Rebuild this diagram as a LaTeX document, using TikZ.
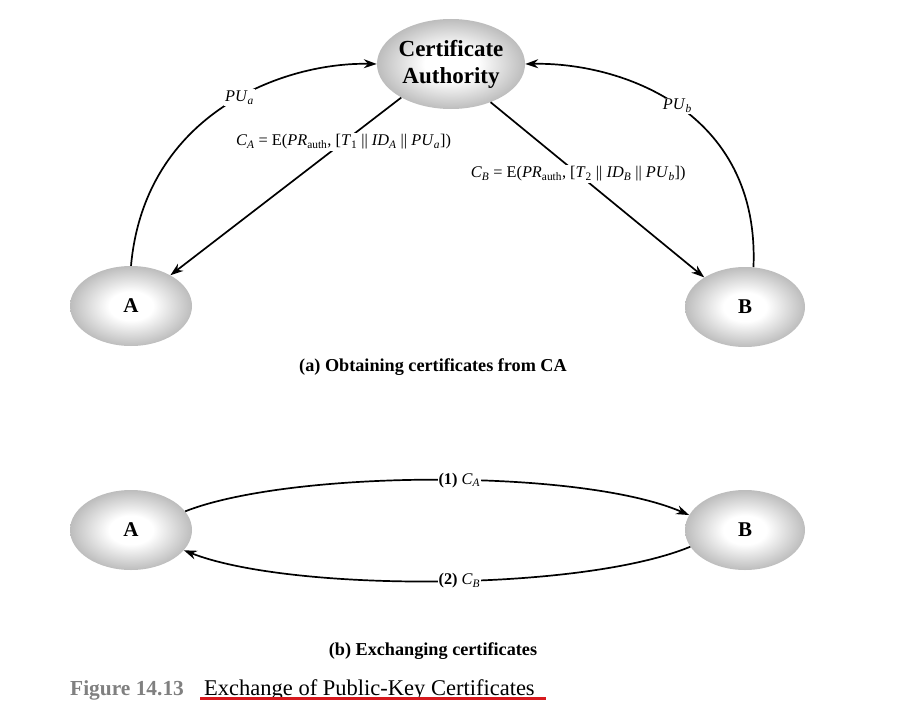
\documentclass[tikz,border=0pt]{standalone}
\usepackage{fontspec}
\setmainfont{Liberation Serif}
\usetikzlibrary{shapes.geometric,arrows.meta}
\pgfdeclareradialshading{ovalshade}{\pgfpoint{0bp}{0bp}}{color(0bp)=(white); color(9bp)=(white); color(25bp)=(black!26); color(50bp)=(black!26)}
\definecolor{figgray}{RGB}{128,128,128}
\definecolor{ulred}{RGB}{215,25,30}
\tikzset{
  oval/.style={ellipse, shading=ovalshade, draw=none, inner sep=0pt, font=\fontsize{21}{24}\selectfont\bfseries},
  conn/.style={line width=1.7pt, -{Stealth[length=13pt,width=9pt]}},
  lbl/.style={fill=white, inner sep=1.5pt, font=\fontsize{16.3}{19}\selectfont},
  captext/.style={font=\fontsize{18.2}{21}\selectfont\bfseries}
}
\begin{document}
\begin{tikzpicture}[x=1pt,y=-1pt]
\useasboundingbox (0,0) rectangle (899,701);
% top part
\node[oval, minimum width=148pt, minimum height=90pt, font=\fontsize{23}{26}\selectfont\bfseries, align=center] (CA) at (451,64) {Certificate\\[1pt]Authority};
\node[oval, minimum width=122pt, minimum height=80pt] (A) at (131,306) {A};
\node[oval, minimum width=120pt, minimum height=80pt] (B) at (745,307) {B};
\draw[conn] (A.north) .. controls (145,112) and (285,62) .. node[lbl, pos=0.55] {\textit{PU}\textsubscript{\textit{a}}} (CA.west);
\draw[conn] (B.78) .. controls (760,110) and (620,62) .. node[lbl, pos=0.5] {\textit{PU}\textsubscript{\textit{b}}} (CA.east);
\draw[conn] (CA.214) -- node[lbl, pos=0.25] {\textit{C}\textsubscript{\textit{A}} = E(\textit{PR}\textsubscript{auth}, [\textit{T}\textsubscript{1} || \textit{ID}\textsubscript{\textit{A}} || \textit{PU}\textsubscript{\textit{a}}])} (A.38);
\draw[conn] (CA.316) -- node[lbl, pos=0.41] {\textit{C}\textsubscript{\textit{B}} = E(\textit{PR}\textsubscript{auth}, [\textit{T}\textsubscript{2} || \textit{ID}\textsubscript{\textit{B}} || \textit{PU}\textsubscript{\textit{b}}])} (B.144);
\node[captext] (capa) at (433,367) {(a) Obtaining certificates from CA};
% bottom part
\node[oval, minimum width=122pt, minimum height=80pt] (A2) at (131,530) {A};
\node[oval, minimum width=120pt, minimum height=80pt] (B2) at (745,530) {B};
\draw[conn] (A2.19) .. controls (290,470) and (580,468) .. node[lbl, pos=0.54, inner sep=0.5pt] {\textbf{(1)} \textit{C}\textsubscript{\textit{A}}} (B2.165);
\draw[conn] (B2.197) .. controls (580,592) and (290,592) .. node[lbl, pos=0.46, inner sep=0.5pt] {\textbf{(2)} \textit{C}\textsubscript{\textit{B}}} (A2.339);
\node[captext] (capb) at (433,651) {(b) Exchanging certificates};
% figure caption
\node[anchor=base west, inner sep=0pt, text=figgray, font=\fontsize{21.4}{24}\selectfont\bfseries] (fig) at (70,695) {Figure 14.13};
\node[anchor=base west, inner sep=0pt, font=\fontsize{22.5}{25}\selectfont] (title) at (204,695) {Exchange of Public-Key Certificates};
\coordinate (u1) at (200,698.5);
\coordinate (u2) at (546,698.5);
\draw[ulred, line width=2.5pt] (u1) -- (u2);
\end{tikzpicture}
\end{document}
